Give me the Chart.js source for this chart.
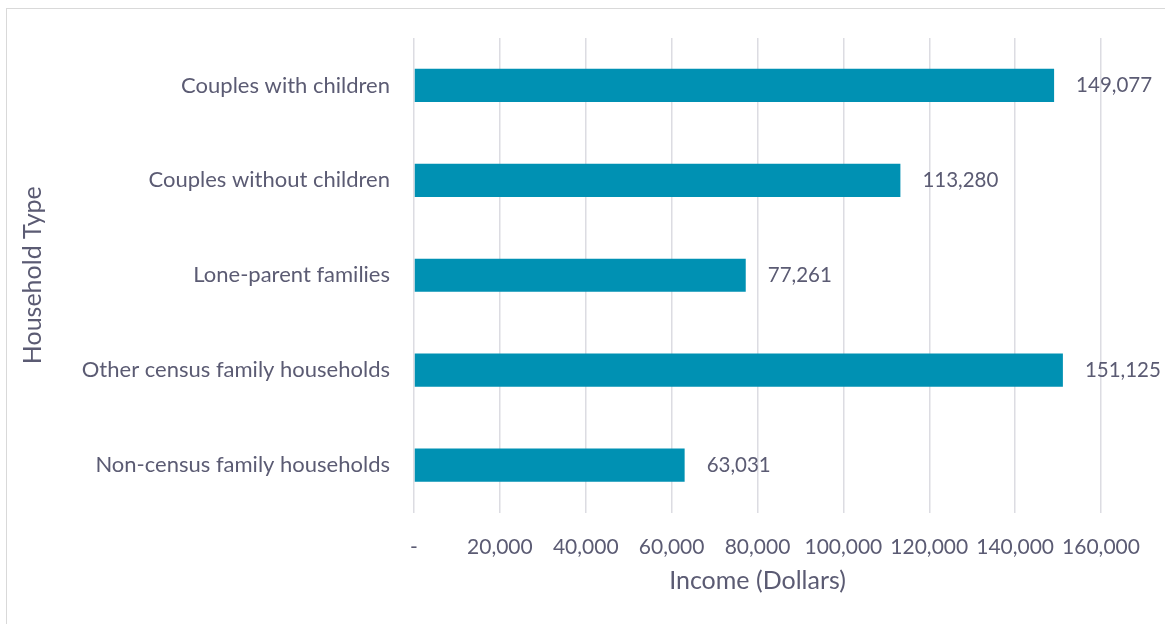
<!DOCTYPE html>
<html>
<head>
<meta charset="utf-8">
<script src="https://cdn.jsdelivr.net/npm/chart.js@4.4.1/dist/chart.umd.min.js"></script>
<style>
  html, body { margin: 0; padding: 0; background: #fff; }
  #wrap { position: relative; width: 1165px; height: 624px; overflow: hidden; }
  #frame { position: absolute; left: 6px; top: 8px; width: 1200px; height: 700px; border: 1px solid #d9d9d9; box-sizing: border-box; }
  #chart { position: absolute; left: 0; top: 0; }
</style>
</head>
<body>
<div id="wrap">
  <div id="frame"></div>
  <canvas id="chart" width="1165" height="624"></canvas>
</div>
<script>
// household types and median income
const categories = [
  "Couples with children",
  "Couples without children",
  "Lone-parent families",
  "Other census family households",
  "Non-census family households"
];
const incomes = [149077, 113280, 77261, 151125, 63031];
const xTicks = [0, 20000, 40000, 60000, 80000, 100000, 120000, 140000, 160000];

const textColor = "#5b5b73";
const fontFamily = "Lato, 'Open Sans', sans-serif";

const fmt = v => v === 0 ? "-" : v.toLocaleString("en-US");

// value labels to the right of each bar
const barLabels = {
  id: "barLabels",
  afterDatasetsDraw(chart) {
    const ctx = chart.ctx;
    const meta = chart.getDatasetMeta(0);
    ctx.save();
    ctx.font = "20.5px " + fontFamily;
    ctx.fillStyle = textColor;
    ctx.textAlign = "left";
    ctx.textBaseline = "middle";
    meta.data.forEach((bar, i) => {
      ctx.fillText(fmt(incomes[i]), bar.x + 22, bar.y);
    });
    ctx.restore();
  }
};

new Chart(document.getElementById("chart"), {
  type: "bar",
  data: {
    labels: categories,
    datasets: [{
      data: incomes,
      backgroundColor: "#0091b3",
      barPercentage: 0.7,
      categoryPercentage: 0.5
    }]
  },
  plugins: [barLabels],
  options: {
    indexAxis: "y",
    responsive: false,
    animation: false,
    layout: { padding: { top: 38, right: 64, bottom: 0, left: 0 } },
    plugins: {
      legend: { display: false },
      tooltip: { enabled: false }
    },
    scales: {
      x: {
        min: 0,
        max: 160000,
        afterBuildTicks: s => { s.ticks = xTicks.map(v => ({ value: v })); },
        afterFit: s => { s.height = 111.5; },
        grid: { color: "#dcdce2", lineWidth: 1.5, drawTicks: false },
        border: { display: false },
        ticks: {
          padding: 22,
          color: textColor,
          font: { family: fontFamily, size: 21 },
          maxRotation: 0,
          callback: v => fmt(v)
        },
        title: {
          display: true,
          text: "Income (Dollars)",
          color: textColor,
          font: { family: fontFamily, size: 25 },
          padding: { top: 0, bottom: 28 }
        }
      },
      y: {
        afterFit: s => { s.width = 414; },
        grid: { display: false, drawTicks: false },
        border: { display: false },
        ticks: {
          padding: 24,
          color: textColor,
          font: { family: fontFamily, size: 22 }
        },
        title: {
          display: true,
          text: "Household Type",
          color: textColor,
          font: { family: fontFamily, size: 25 },
          padding: { top: 18, bottom: 0 }
        }
      }
    }
  }
});
</script>
</body>
</html>
